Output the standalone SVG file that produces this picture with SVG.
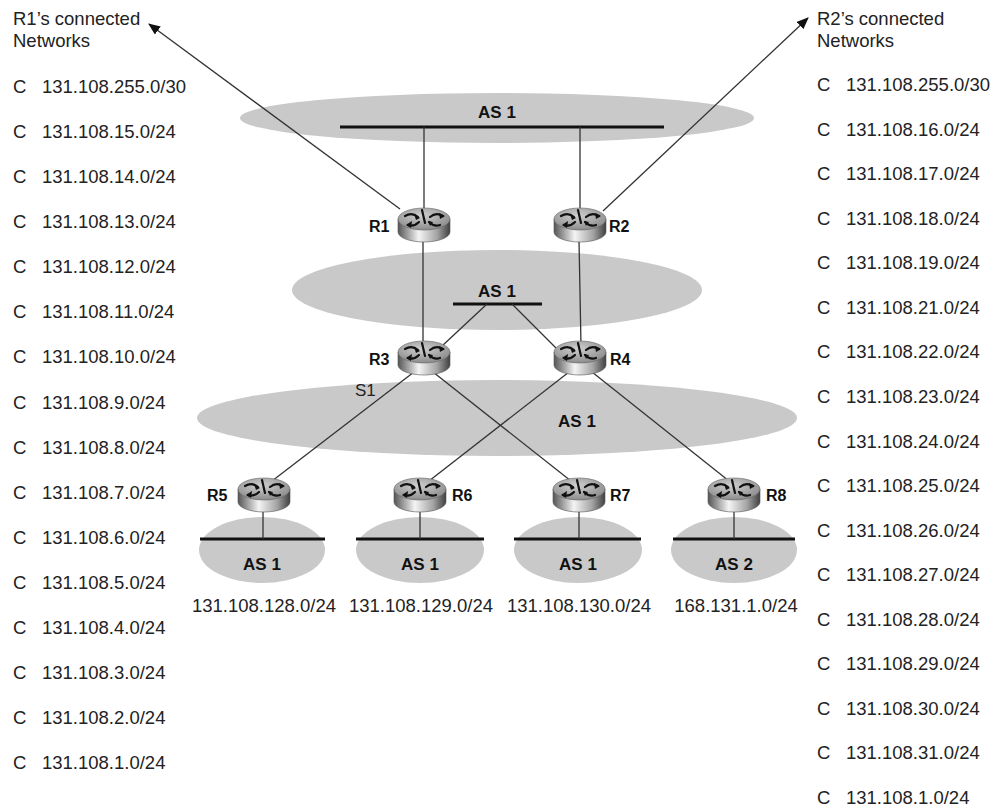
<svg xmlns="http://www.w3.org/2000/svg" xmlns:xlink="http://www.w3.org/1999/xlink" width="995" height="811" viewBox="0 0 995 811">
<style>
.t{font-family:"Liberation Sans",Arial,sans-serif;font-size:18.5px;fill:#222}
.b{font-family:"Liberation Sans",Arial,sans-serif;font-size:16px;font-weight:bold;fill:#111}
.as{font-family:"Liberation Sans",Arial,sans-serif;font-size:17px;font-weight:bold;fill:#111;text-anchor:middle}
.cloud{fill:#c9c9c9}
.bus{stroke:#111;stroke-width:3}
.ln{stroke:#333;stroke-width:1.3;fill:none}
.mid{text-anchor:middle}
</style>
<defs>
<linearGradient id="bodyG" x1="0" y1="0" x2="1" y2="0">
<stop offset="0" stop-color="#555"/>
<stop offset="0.4" stop-color="#f4f4f4"/>
<stop offset="0.75" stop-color="#a4a4a4"/>
<stop offset="1" stop-color="#404040"/>
</linearGradient>
<radialGradient id="topG" cx="0.45" cy="0.35" r="0.65">
<stop offset="0" stop-color="#cfcfcf"/>
<stop offset="1" stop-color="#8c8c8c"/>
</radialGradient>
<marker id="ah" markerWidth="12" markerHeight="10" refX="11" refY="5" orient="auto" markerUnits="userSpaceOnUse">
<path d="M0,0 L12,5 L0,10 Z" fill="#111"/>
</marker>
<g id="router">
<path d="M-26,-6 L-26,7 A26,10 0 0 0 26,7 L26,-6 Z" fill="url(#bodyG)" stroke="#555" stroke-width="0.6"/>
<ellipse cx="0" cy="-6" rx="26" ry="11" fill="url(#topG)" stroke="#666" stroke-width="0.6"/>
<g stroke="#111" stroke-width="2.2" fill="none" stroke-linecap="round">
<path d="M-19,-9 Q-12,-13 -6,-8"/>
<path d="M6,-8 Q12,-13 19,-9"/>
<path d="M-5,-3 Q-10,2 -16,0"/>
<path d="M5,-3 Q10,2 16,0"/>
<path d="M-2,-15 L1,-2"/>
</g>
<g fill="#111">
<path d="M-4,-7 L-10,-11 L-8,-5 Z"/>
<path d="M21,-9 L15,-12 L16,-6 Z"/>
<path d="M-18,0 L-12,-4 L-13,3 Z"/>
<path d="M4,-4 L9,-3 L6,1 Z"/>
</g>
</g>
</defs>

<g id="clouds">
<ellipse class="cloud" cx="497" cy="118" rx="257" ry="25"/>
<ellipse class="cloud" cx="497" cy="290" rx="205" ry="40"/>
<ellipse class="cloud" cx="497" cy="418" rx="300" ry="38"/>
<ellipse class="cloud" cx="262" cy="550" rx="63" ry="33"/>
<ellipse class="cloud" cx="420" cy="550" rx="64" ry="33"/>
<ellipse class="cloud" cx="578" cy="550" rx="64" ry="33"/>
<ellipse class="cloud" cx="734" cy="550" rx="63" ry="33"/>
</g>

<g id="connectors">
<line class="bus" x1="340" y1="127" x2="664" y2="127"/>
<line class="bus" x1="453" y1="304" x2="542" y2="304"/>
<line class="bus" x1="200" y1="539" x2="325" y2="539"/>
<line class="bus" x1="356" y1="539" x2="484" y2="539"/>
<line class="bus" x1="514" y1="539" x2="641" y2="539"/>
<line class="bus" x1="673" y1="539" x2="795" y2="539"/>
<line class="ln" x1="424" y1="127" x2="424" y2="212"/>
<line class="ln" x1="580" y1="127" x2="580" y2="212"/>
<line class="ln" x1="423" y1="240" x2="423" y2="346"/>
<line class="ln" x1="579" y1="240" x2="581" y2="346"/>
<line class="ln" x1="487" y1="304" x2="442" y2="346"/>
<line class="ln" x1="512" y1="304" x2="556" y2="348"/>
<line class="ln" x1="414" y1="372" x2="272" y2="481"/>
<line class="ln" x1="433" y1="372" x2="571" y2="481"/>
<line class="ln" x1="569" y1="372" x2="429" y2="481"/>
<line class="ln" x1="592" y1="372" x2="729" y2="481"/>
<line class="ln" x1="263" y1="510" x2="263" y2="539"/>
<line class="ln" x1="420" y1="510" x2="420" y2="539"/>
<line class="ln" x1="579" y1="510" x2="579" y2="539"/>
<line class="ln" x1="734" y1="510" x2="734" y2="539"/>
<line class="ln" x1="400" y1="209" x2="149" y2="24" marker-end="url(#ah)"/>
<line class="ln" x1="603" y1="211" x2="808" y2="18" marker-end="url(#ah)"/>
</g>

<g id="as-labels">
<text class="as" x="497" y="118">AS 1</text>
<text class="as" x="497" y="297">AS 1</text>
<text class="as" x="577" y="427">AS 1</text>
<text class="as" x="262" y="570">AS 1</text>
<text class="as" x="420" y="570">AS 1</text>
<text class="as" x="578" y="570">AS 1</text>
<text class="as" x="734" y="570">AS 2</text>
<text class="t" x="355" y="396" style="font-size:17px">S1</text>
</g>

<g id="R1"><use xlink:href="#router" x="424" y="225"/><text class="b" x="369" y="232">R1</text></g>
<g id="R2"><use xlink:href="#router" x="580" y="225"/><text class="b" x="609" y="232">R2</text></g>
<g id="R3"><use xlink:href="#router" x="424" y="358"/><text class="b" x="369" y="365">R3</text></g>
<g id="R4"><use xlink:href="#router" x="580" y="358"/><text class="b" x="610" y="365">R4</text></g>
<g id="R5"><use xlink:href="#router" x="264" y="495"/><text class="b" x="207" y="501">R5</text></g>
<g id="R6"><use xlink:href="#router" x="420" y="495"/><text class="b" x="452" y="501">R6</text></g>
<g id="R7"><use xlink:href="#router" x="579" y="495"/><text class="b" x="610" y="501">R7</text></g>
<g id="R8"><use xlink:href="#router" x="734" y="495"/><text class="b" x="766" y="501">R8</text></g>

<g id="subnets">
<text class="t mid" x="264" y="612">131.108.128.0/24</text>
<text class="t mid" x="421" y="612">131.108.129.0/24</text>
<text class="t mid" x="579" y="612">131.108.130.0/24</text>
<text class="t mid" x="736" y="612">168.131.1.0/24</text>
</g>

<g id="R1-networks">
<text class="t" x="13" y="25">R1’s connected</text>
<text class="t" x="13" y="47">Networks</text>
<text class="t" x="13" y="93">C</text><text class="t" x="42" y="93">131.108.255.0/30</text>
<text class="t" x="13" y="138">C</text><text class="t" x="42" y="138">131.108.15.0/24</text>
<text class="t" x="13" y="183">C</text><text class="t" x="42" y="183">131.108.14.0/24</text>
<text class="t" x="13" y="228">C</text><text class="t" x="42" y="228">131.108.13.0/24</text>
<text class="t" x="13" y="273">C</text><text class="t" x="42" y="273">131.108.12.0/24</text>
<text class="t" x="13" y="318">C</text><text class="t" x="42" y="318">131.108.11.0/24</text>
<text class="t" x="13" y="363">C</text><text class="t" x="42" y="363">131.108.10.0/24</text>
<text class="t" x="13" y="409">C</text><text class="t" x="42" y="409">131.108.9.0/24</text>
<text class="t" x="13" y="454">C</text><text class="t" x="42" y="454">131.108.8.0/24</text>
<text class="t" x="13" y="499">C</text><text class="t" x="42" y="499">131.108.7.0/24</text>
<text class="t" x="13" y="544">C</text><text class="t" x="42" y="544">131.108.6.0/24</text>
<text class="t" x="13" y="589">C</text><text class="t" x="42" y="589">131.108.5.0/24</text>
<text class="t" x="13" y="634">C</text><text class="t" x="42" y="634">131.108.4.0/24</text>
<text class="t" x="13" y="679">C</text><text class="t" x="42" y="679">131.108.3.0/24</text>
<text class="t" x="13" y="724">C</text><text class="t" x="42" y="724">131.108.2.0/24</text>
<text class="t" x="13" y="769">C</text><text class="t" x="42" y="769">131.108.1.0/24</text>
</g>

<g id="R2-networks">
<text class="t" x="817" y="25">R2’s connected</text>
<text class="t" x="817" y="47">Networks</text>
<text class="t" x="817" y="91">C</text><text class="t" x="846" y="91">131.108.255.0/30</text>
<text class="t" x="817" y="136">C</text><text class="t" x="846" y="136">131.108.16.0/24</text>
<text class="t" x="817" y="180">C</text><text class="t" x="846" y="180">131.108.17.0/24</text>
<text class="t" x="817" y="225">C</text><text class="t" x="846" y="225">131.108.18.0/24</text>
<text class="t" x="817" y="269">C</text><text class="t" x="846" y="269">131.108.19.0/24</text>
<text class="t" x="817" y="314">C</text><text class="t" x="846" y="314">131.108.21.0/24</text>
<text class="t" x="817" y="358">C</text><text class="t" x="846" y="358">131.108.22.0/24</text>
<text class="t" x="817" y="403">C</text><text class="t" x="846" y="403">131.108.23.0/24</text>
<text class="t" x="817" y="448">C</text><text class="t" x="846" y="448">131.108.24.0/24</text>
<text class="t" x="817" y="492">C</text><text class="t" x="846" y="492">131.108.25.0/24</text>
<text class="t" x="817" y="537">C</text><text class="t" x="846" y="537">131.108.26.0/24</text>
<text class="t" x="817" y="581">C</text><text class="t" x="846" y="581">131.108.27.0/24</text>
<text class="t" x="817" y="626">C</text><text class="t" x="846" y="626">131.108.28.0/24</text>
<text class="t" x="817" y="670">C</text><text class="t" x="846" y="670">131.108.29.0/24</text>
<text class="t" x="817" y="715">C</text><text class="t" x="846" y="715">131.108.30.0/24</text>
<text class="t" x="817" y="759">C</text><text class="t" x="846" y="759">131.108.31.0/24</text>
<text class="t" x="817" y="804">C</text><text class="t" x="846" y="804">131.108.1.0/24</text>
</g>
</svg>
